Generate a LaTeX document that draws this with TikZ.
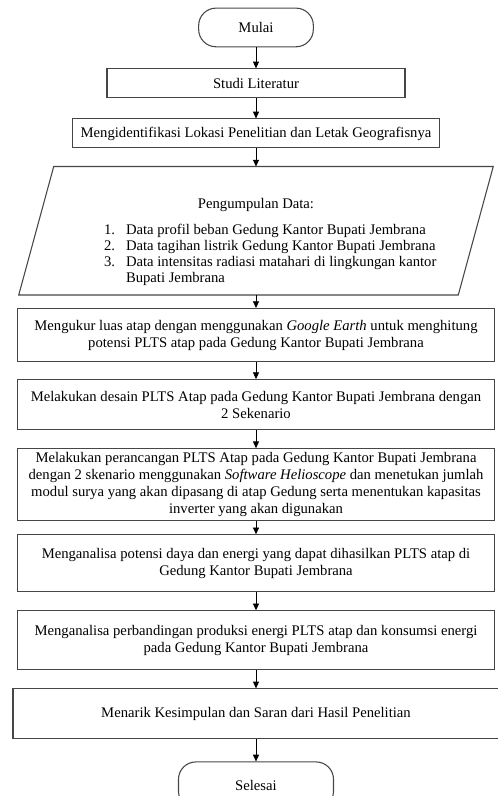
\documentclass[tikz,border=0pt]{standalone}
\usepackage{fontspec}
\setmainfont{Liberation Serif}
\usetikzlibrary{arrows.meta, positioning, calc}
\definecolor{edgec}{RGB}{70,70,70}
\tikzset{
  term/.style={draw=edgec, line width=0.8pt, rounded corners=13pt,
               minimum width=#1, minimum height=29pt, align=center},
  term/.default=86pt,
  proc/.style={draw=edgec, line width=0.8pt, minimum width=357.75pt,
               minimum height=#1, align=center, inner sep=1pt},
  proc/.default=21.75pt,
  arr/.style={-{Triangle[length=5pt,width=4.5pt]}, line width=0.5pt},
}

\begin{document}
\begin{tikzpicture}[font=\fontsize{11}{12.75}\selectfont]
  \useasboundingbox (0,0) rectangle (372.75pt,-597pt);
  \node[term] (start) at (192pt,-20.6pt) {Mulai};
  \node[proc, minimum width=223.5pt, below=15.75pt of start] (studi) {Studi Literatur};
  \node[proc, minimum width=275.25pt, below=15pt of studi] (lokasi)
    {Mengidentifikasi Lokasi Penelitian dan Letak Geografisnya};
  % input data (parallelogram)
  \node[minimum width=355.5pt, minimum height=96pt, below=13.5pt of lokasi] (data) {};
  \draw[draw=edgec, line width=0.8pt]
    ($(data.north west)+(26.25pt,0)$) -- (data.north east)
    -- ($(data.south east)+(-26.25pt,0)$) -- (data.south west) -- cycle;
  \node[inner sep=0pt, below=24pt of data.north] (datatitle) {Pengumpulan Data:};
  \node[inner sep=0pt, below right=42.3pt and 63.75pt of data.north west,
        font=\fontsize{11}{12}\selectfont] (datalist)
    {\begin{tabular}{@{}l@{\hspace{8.25pt}}l@{}}
      1. & Data profil beban Gedung Kantor Bupati Jembrana\\
      2. & Data tagihan listrik Gedung Kantor Bupati Jembrana\\
      3. & Data intensitas radiasi matahari di lingkungan kantor\\
         & Bupati Jembrana
     \end{tabular}};
  \node[proc=39.75pt, below=9.75pt of data] (luas)
    {Mengukur luas atap dengan menggunakan \textit{Google Earth} untuk menghitung\\
     potensi PLTS atap pada Gedung Kantor Bupati Jembrana};
  \node[proc=37.5pt, below=12.75pt of luas] (desain)
    {Melakukan desain PLTS Atap pada Gedung Kantor Bupati Jembrana dengan\\
     2 Sekenario};
  \node[proc=54pt, below=13.5pt of desain] (rancang)
    {Melakukan perancangan PLTS Atap pada Gedung Kantor Bupati Jembrana\\
     dengan 2 skenario menggunakan \textit{Software Helioscope} dan menetukan jumlah\\
     modul surya yang akan dipasang di atap Gedung serta menentukan kapasitas\\
     inverter yang akan digunakan};
  \node[proc=42.75pt, below=9.75pt of rancang] (potensi)
    {Menganalisa potensi daya dan energi yang dapat dihasilkan PLTS atap di\\
     Gedung Kantor Bupati Jembrana};
  \node[proc=44.25pt, below=13.5pt of potensi] (banding)
    {Menganalisa perbandingan produksi energi PLTS atap dan konsumsi energi\\
     pada Gedung Kantor Bupati Jembrana};
  \node[proc=37.5pt, minimum width=364.5pt, below=13.5pt of banding] (simpul)
    {Menarik Kesimpulan dan Saran dari Hasil Penelitian};
  \node[term=116.25pt, minimum height=35pt, below=16.5pt of simpul] (finish) {Selesai};
  \draw[arr] (start)   -- (studi);
  \draw[arr] (studi)   -- (lokasi);
  \draw[arr] (lokasi)  -- (data);
  \draw[arr] (data)    -- (luas);
  \draw[arr] (luas)    -- (desain);
  \draw[arr] (desain)  -- (rancang);
  \draw[arr] (rancang) -- (potensi);
  \draw[arr] (potensi) -- (banding);
  \draw[arr] (banding) -- (simpul);
  \draw[arr] (simpul)  -- (finish);
\end{tikzpicture}
\end{document}
